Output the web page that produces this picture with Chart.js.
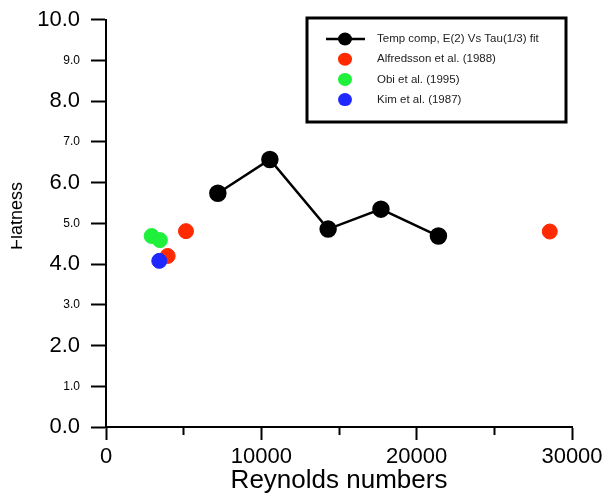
<!DOCTYPE html>
<html>
<head>
<meta charset="utf-8">
<script src="https://cdn.jsdelivr.net/npm/chart.js@4"></script>
<style>
  html, body { margin: 0; padding: 0; background: #fff; }
  #wrap { width: 613px; height: 496px; }
</style>
</head>
<body>
<div id="wrap"><canvas id="flat-chart" width="613" height="496"></canvas></div>
<script>
// Reynolds number vs flatness
const tempRe = [7200, 10550, 14300, 17700, 21400];
const tempFlat = [5.74, 6.57, 4.86, 5.35, 4.69];
const alfRe = [3970, 5150, 28570];
const alfFlat = [4.20, 4.81, 4.80];
const obiRe = [2940, 3470];
const obiFlat = [4.69, 4.59];
const kimRe = [3430];
const kimFlat = [4.08];

const seriesLabels = ['Temp comp, E(2) Vs Tau(1/3) fit', 'Alfredsson et al. (1988)', 'Obi et al. (1995)', 'Kim et al. (1987)'];
const xTicksMajor = [0, 10000, 20000, 30000];
const yTitle = 'Flatness';

const FONT = '"Liberation Sans", Arial, Helvetica, sans-serif';

function pts(xs, ys) {
  return xs.map((x, i) => ({ x: x, y: ys[i] }));
}

// legend drawn as a framed box inside the plot, like the original
const boxLegend = {
  id: 'boxLegend',
  afterDraw(chart) {
    const ctx = chart.ctx;
    const bx = 307, by = 18, bw = 259, bh = 104;
    ctx.save();
    ctx.strokeStyle = '#000';
    ctx.lineWidth = 3;
    ctx.strokeRect(bx, by, bw, bh);
    ctx.font = '11.5px ' + FONT;
    ctx.textBaseline = 'middle';
    chart.data.datasets.forEach((ds, i) => {
      const y = 39 + i * 20.2;
      const mx = 345;
      if (ds.showLine) {
        ctx.strokeStyle = ds.borderColor;
        ctx.lineWidth = 2.5;
        ctx.beginPath();
        ctx.moveTo(326, y);
        ctx.lineTo(365, y);
        ctx.stroke();
      }
      ctx.fillStyle = ds.pointBackgroundColor;
      ctx.beginPath();
      ctx.ellipse(mx, y, 7, 6.5, 0, 0, Math.PI * 2);
      ctx.fill();
      ctx.fillStyle = '#222';
      ctx.fillText(ds.label, 377, y);
    });

    // y title, cut off on the left as in the source figure
    ctx.save();
    ctx.beginPath();
    ctx.rect(11, 0, 40, chart.height);
    ctx.clip();
    ctx.translate(22, 216);
    ctx.rotate(-Math.PI / 2);
    ctx.font = '18px ' + FONT;
    ctx.fillStyle = '#000';
    ctx.textAlign = 'center';
    ctx.textBaseline = 'alphabetic';
    ctx.fillText(yTitle, 0, 0);
    ctx.restore();

    ctx.restore();
  }
};

const ctx = document.getElementById('flat-chart').getContext('2d');
new Chart(ctx, {
  type: 'scatter',
  data: {
    datasets: [
      {
        label: seriesLabels[0],
        data: pts(tempRe, tempFlat),
        showLine: true,
        borderColor: '#000',
        borderWidth: 2.5,
        pointBackgroundColor: '#000',
        pointBorderColor: '#000',
        pointRadius: 7.5,
        order: 1
      },
      {
        label: seriesLabels[1],
        data: pts(alfRe, alfFlat),
        pointBackgroundColor: '#FF2A00',
        pointBorderColor: '#FF2A00',
        pointRadius: 7.5,
        order: 3
      },
      {
        label: seriesLabels[2],
        data: pts(obiRe, obiFlat),
        pointBackgroundColor: '#1EF03C',
        pointBorderColor: '#1EF03C',
        pointRadius: 7.5,
        order: 2
      },
      {
        label: seriesLabels[3],
        data: pts(kimRe, kimFlat),
        pointBackgroundColor: '#1E28FF',
        pointBorderColor: '#1E28FF',
        pointRadius: 7.5,
        order: 0
      }
    ]
  },
  options: {
    responsive: false,
    animation: false,
    layout: {
      padding: { left: 0, right: 41, top: 18, bottom: 0 }
    },
    plugins: {
      legend: { display: false },
      tooltip: { enabled: false }
    },
    scales: {
      x: {
        type: 'linear',
        min: 0,
        max: 30000,
        afterFit(scale) { scale.height = 69; },
        border: { display: true, color: '#000', width: 2 },
        grid: {
          drawOnChartArea: false,
          drawTicks: true,
          tickLength: 13,
          tickColor: '#000',
          tickWidth: 2,
          tickBorderDash: (c) => (c.tick && !xTicksMajor.includes(c.tick.value)) ? [7, 30] : []
        },
        ticks: {
          stepSize: 5000,
          autoSkip: false,
          maxRotation: 0,
          padding: 4,
          color: '#000',
          font: { family: FONT, size: 22 },
          callback: (v) => xTicksMajor.includes(v) ? String(v) : ''
        },
        title: {
          display: true,
          text: 'Reynolds numbers',
          color: '#000',
          font: { family: FONT, size: 26 },
          padding: { top: 0, bottom: 0 }
        }
      },
      y: {
        min: 0,
        max: 10,
        afterFit(scale) { scale.width = 106; },
        border: { display: true, color: '#000', width: 2 },
        grid: {
          drawOnChartArea: false,
          drawTicks: true,
          tickLength: 15,
          tickColor: '#000',
          tickWidth: 2
        },
        ticks: {
          stepSize: 1,
          padding: 11,
          color: '#000',
          font: (c) => ({
            family: FONT,
            size: (c.tick && c.tick.value % 2 === 0) ? 22 : 12,
            lineHeight: 0.8
          }),
          callback: (v) => v.toFixed(1)
        },
        title: { display: false }
      }
    }
  },
  plugins: [boxLegend]
});
</script>
</body>
</html>
